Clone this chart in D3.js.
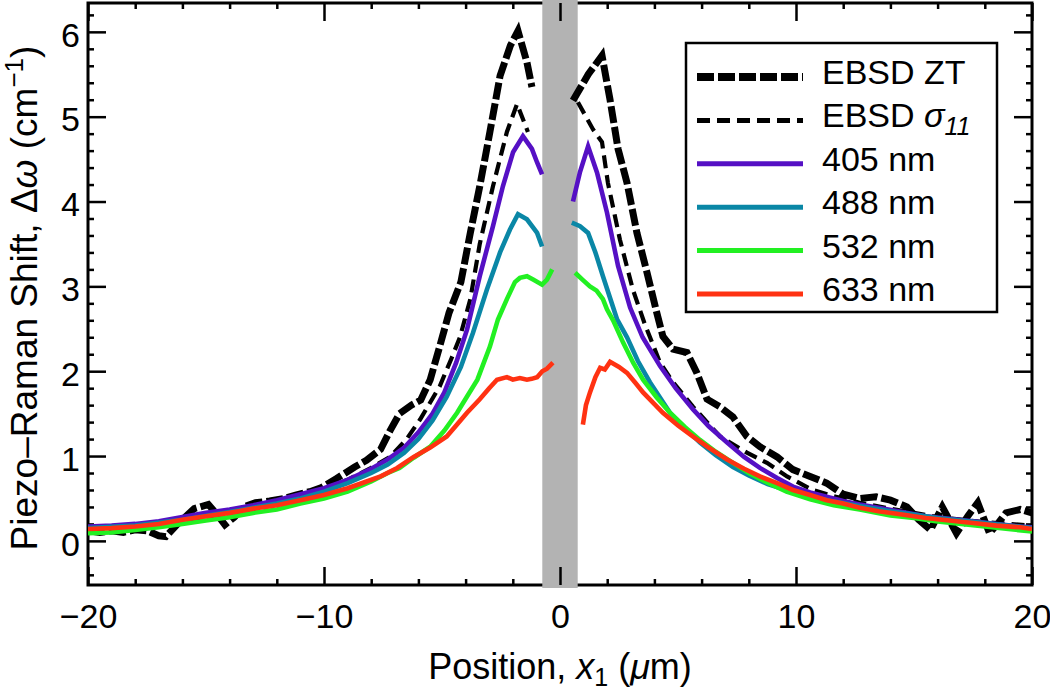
<!DOCTYPE html>
<html><head><meta charset="utf-8">
<script src="https://cdn.jsdelivr.net/npm/d3@7"></script>
<style>body{margin:0;background:#fff}svg{display:block;font-family:"Liberation Sans",Arial,sans-serif}</style>
</head><body>
<svg id="chart" width="1050" height="694"></svg>
<script>
// ---------- data (x in µm, y in cm^-1); null = gap at the interface ----------
const seriesNames = ["EBSD ZT", "EBSD σ11", "405 nm", "488 nm", "532 nm", "633 nm"];
const xTicks = [-20, -10, 0, 10, 20];
const yTicks = [0, 1, 2, 3, 4, 5, 6];
const bandRange = [-0.75, 0.75];

const ebsdZT = [[-20,0.12],[-19.5,0.1],[-19,0.12],[-18.5,0.1],[-18,0.13],[-17.5,0.12],[-17,0.06],[-16.7,0.05],[-16.2,0.2],[-15.5,0.38],[-14.9,0.43],[-14.5,0.3],[-14.2,0.19],[-13.8,0.28],[-13.4,0.4],[-12.9,0.45],[-12.3,0.47],[-11.7,0.5],[-11.2,0.54],[-10.6,0.58],[-10.1,0.63],[-9.5,0.73],[-8.7,0.87],[-8.2,0.95],[-7.6,1.08],[-7.2,1.3],[-6.8,1.5],[-6.3,1.6],[-5.9,1.66],[-5.5,1.9],[-5.1,2.29],[-4.7,2.69],[-4.2,3.05],[-3.8,3.63],[-3.4,4.18],[-2.97,4.82],[-2.54,5.48],[-2.1,5.84],[-1.78,6.01],[-1.4,5.64],[-1.19,5.35],
  null,
  [0.55,5.19],[1.2,5.5],[1.78,5.72],[2.12,5.2],[2.46,4.62],[2.84,4.22],[3.26,3.63],[3.69,3.16],[4.1,2.69],[4.36,2.41],[4.79,2.26],[5.38,2.22],[5.8,1.98],[6.23,1.67],[6.78,1.58],[7.33,1.46],[7.92,1.23],[8.47,1.11],[9.2,0.99],[9.87,0.84],[10.6,0.76],[11.3,0.68],[12.0,0.55],[12.7,0.5],[13.4,0.52],[14.0,0.48],[14.7,0.4],[15.2,0.25],[15.7,0.13],[16.2,0.4],[16.8,0.09],[17.3,0.3],[17.7,0.45],[18.2,0.09],[18.6,0.22],[18.9,0.33],[19.5,0.37],[20,0.33]];

const ebsdS11 = [[-20,0.15],[-18,0.18],[-16,0.24],[-14,0.32],[-12,0.43],[-10,0.6],[-9,0.72],[-8,0.86],[-7.2,0.99],[-6.5,1.2],[-5.93,1.43],[-5.1,1.82],[-4.6,2.15],[-4.24,2.4],[-3.8,2.85],[-3.4,3.5],[-2.84,4.18],[-2.25,4.82],[-1.82,5.15],[-1.36,4.82],
  null,
  [0.76,5.17],[1.4,4.85],[1.78,4.7],[2.03,4.22],[2.54,3.55],[3.09,2.96],[3.6,2.55],[4.24,2.1],[4.79,1.87],[5.64,1.58],[6.78,1.23],[7.92,1.04],[8.77,0.92],[9.62,0.76],[10.7,0.6],[11.7,0.52],[12.7,0.45],[14,0.38],[15,0.33],[16,0.28],[17,0.25],[18,0.22],[19,0.2],[20,0.18]];

const nm405 = [[-20,0.17],[-19,0.18],[-18,0.2],[-17,0.23],[-16,0.28],[-15,0.33],[-14,0.37],[-13,0.42],[-12,0.48],[-11,0.55],[-10,0.62],[-9,0.72],[-8,0.85],[-7.3,0.96],[-6.6,1.1],[-6,1.28],[-5.4,1.5],[-4.9,1.75],[-4.4,2.1],[-3.94,2.49],[-3.4,3.12],[-2.84,3.71],[-2.42,4.18],[-1.99,4.58],[-1.57,4.77],[-1.19,4.62],[-0.97,4.46],[-0.76,4.32],
  null,
  [0.55,4.0],[0.85,4.35],[1.19,4.65],[1.57,4.34],[1.99,3.87],[2.46,3.24],[2.97,2.75],[3.5,2.4],[4.24,2.06],[4.9,1.8],[5.64,1.55],[6.3,1.35],[7.08,1.16],[7.8,0.99],[8.47,0.86],[9.2,0.74],[9.87,0.64],[10.6,0.57],[11.3,0.52],[12,0.47],[12.7,0.43],[13.5,0.39],[14.5,0.34],[15.5,0.29],[16.5,0.26],[17.5,0.23],[18.5,0.2],[19.5,0.17],[20,0.16]];

const nm488 = [[-20,0.15],[-18,0.18],[-16,0.25],[-14,0.34],[-12,0.44],[-11,0.5],[-10,0.58],[-9,0.68],[-8,0.8],[-7.3,0.9],[-6.6,1.04],[-6,1.2],[-5.4,1.42],[-4.8,1.7],[-4.2,2.05],[-3.69,2.45],[-3.1,2.96],[-2.54,3.4],[-2.12,3.67],[-1.78,3.85],[-1.4,3.79],[-0.97,3.63],[-0.76,3.47],
  null,
  [0.5,3.75],[0.85,3.71],[1.19,3.63],[1.5,3.4],[1.82,3.12],[2.42,2.61],[2.84,2.4],[3.3,2.12],[3.81,1.87],[4.66,1.51],[5.3,1.33],[5.93,1.16],[6.6,1.01],[7.33,0.87],[8,0.77],[8.8,0.67],[9.6,0.6],[10.5,0.53],[11.5,0.47],[12.7,0.41],[14,0.35],[15,0.31],[16,0.27],[17,0.24],[18,0.21],[19,0.18],[20,0.15]];

const nm532 = [[-20,0.09],[-19,0.1],[-18,0.13],[-17,0.16],[-16,0.2],[-15,0.24],[-14,0.28],[-13,0.33],[-12,0.37],[-11,0.44],[-10,0.5],[-9,0.58],[-8,0.7],[-7.3,0.8],[-6.8,0.86],[-6.2,0.98],[-5.5,1.11],[-4.9,1.3],[-4.36,1.51],[-3.9,1.72],[-3.5,1.9],[-2.97,2.29],[-2.63,2.61],[-2.25,2.85],[-1.91,3.05],[-1.7,3.1],[-1.4,3.12],[-1.14,3.08],[-0.76,3.02],[-0.55,3.08],[-0.33,3.2],
  null,
  [0.64,3.16],[0.95,3.08],[1.27,3.0],[1.55,2.95],[1.82,2.85],[1.99,2.73],[2.25,2.6],[2.67,2.34],[3.1,2.1],[3.52,1.9],[4.1,1.69],[4.66,1.51],[5.3,1.34],[5.93,1.19],[6.6,1.05],[7.33,0.92],[8,0.8],[8.77,0.69],[9.6,0.58],[10.6,0.49],[11.6,0.42],[12.7,0.37],[14,0.3],[15,0.27],[16,0.23],[17,0.2],[18,0.17],[19,0.14],[20,0.11]];

const nm633 = [[-20,0.14],[-19,0.15],[-18,0.17],[-17,0.2],[-16,0.25],[-15,0.29],[-14,0.33],[-13,0.38],[-12,0.42],[-11,0.48],[-10,0.54],[-9,0.62],[-8.2,0.7],[-7.6,0.76],[-6.9,0.86],[-6.2,0.99],[-5.5,1.1],[-4.8,1.23],[-4.4,1.36],[-3.94,1.51],[-3.4,1.67],[-3.0,1.8],[-2.67,1.9],[-2.25,1.93],[-2.0,1.9],[-1.7,1.92],[-1.4,1.9],[-1.2,1.91],[-0.97,1.93],[-0.75,2.0],[-0.55,2.03],[-0.3,2.1],
  null,
  [0.97,1.37],[1.1,1.6],[1.27,1.75],[1.5,1.93],[1.7,2.04],[1.9,2.02],[2.12,2.11],[2.5,2.05],[2.84,1.98],[3.2,1.86],[3.52,1.75],[4.36,1.51],[5.0,1.36],[5.64,1.23],[6.3,1.1],[7.08,0.96],[7.8,0.85],[8.47,0.76],[9.2,0.68],[9.87,0.6],[10.6,0.54],[11.3,0.48],[12,0.44],[12.7,0.39],[13.5,0.35],[14.5,0.31],[15.5,0.27],[16.5,0.24],[17.5,0.21],[18.5,0.18],[19.5,0.16],[20,0.14]];

// ---------- layout ----------
const svg = d3.select("#chart");
const L = 88, R = 1032, T = 3, B = 585;
const x = d3.scaleLinear([-20, 20], [L, R]);
const y = d3.scaleLinear([-0.52, 6.34], [B, T]);

const styles = [
  {data: ebsdZT, color: "#000", width: 7, dash: "17,4"},
  {data: ebsdS11, color: "#000", width: 4.2, dash: "13,7"},
  {data: nm405, color: "#5510c4", width: 4.6, dash: null},
  {data: nm488, color: "#0a87a6", width: 4.6, dash: null},
  {data: nm532, color: "#22f022", width: 4.6, dash: null},
  {data: nm633, color: "#ff3212", width: 4.6, dash: null}
];

// frame
svg.append("rect").attr("x", L).attr("y", T).attr("width", R - L).attr("height", B - T)
  .attr("fill", "none").attr("stroke", "#000").attr("stroke-width", 3);

// interface band
svg.append("rect").attr("x", x(bandRange[0])).attr("width", x(bandRange[1]) - x(bandRange[0]))
  .attr("y", 0).attr("height", B + 3).attr("fill", "#b3b3b3");

// axes (inward ticks)
const minorX = d3.range(-20, 20.01, 2).filter(v => v % 10 !== 0);
const minorY = d3.range(-0.4, 6.31, 0.2).map(v => +v.toFixed(1)).filter(v => Math.abs(v - Math.round(v)) > 1e-6);
function styleAxis(g) {
  g.select(".domain").remove();
  g.selectAll(".tick line").attr("stroke", "#000").attr("stroke-width", 2.5);
  g.selectAll(".tick text").attr("fill", "#000").attr("font-size", 34)
    .attr("font-family", '"Liberation Sans", Arial, sans-serif');
}
svg.append("g").attr("transform", `translate(0,${B})`)
  .call(d3.axisBottom(x).tickValues(xTicks).tickSize(-18).tickPadding(19).tickFormat(d3.format("d"))).call(styleAxis);
svg.append("g").attr("transform", `translate(0,${B})`)
  .call(d3.axisBottom(x).tickValues(minorX).tickSize(-6).tickFormat("")).call(styleAxis);
svg.append("g").attr("transform", `translate(0,${T})`)
  .call(d3.axisTop(x).tickValues(xTicks).tickSize(-18).tickFormat("")).call(styleAxis);
svg.append("g").attr("transform", `translate(0,${T})`)
  .call(d3.axisTop(x).tickValues(minorX).tickSize(-6).tickFormat("")).call(styleAxis);
svg.append("g").attr("transform", `translate(${L},0)`)
  .call(d3.axisLeft(y).tickValues(yTicks).tickSize(-18).tickPadding(8).tickFormat(d3.format("d"))).call(styleAxis)
  .selectAll(".tick text").attr("dy", "0.42em");
svg.append("g").attr("transform", `translate(${L},0)`)
  .call(d3.axisLeft(y).tickValues(minorY).tickSize(-6).tickFormat("")).call(styleAxis);
svg.append("g").attr("transform", `translate(${R},0)`)
  .call(d3.axisRight(y).tickValues(yTicks).tickSize(-18).tickFormat("")).call(styleAxis);
svg.append("g").attr("transform", `translate(${R},0)`)
  .call(d3.axisRight(y).tickValues(minorY).tickSize(-6).tickFormat("")).call(styleAxis);

// data lines
const line = d3.line().defined(d => d !== null).x(d => x(d[0])).y(d => y(d[1]));
svg.append("clipPath").attr("id", "clip").append("rect")
  .attr("x", L).attr("y", T).attr("width", R - L).attr("height", B - T);
const lines = svg.append("g").attr("clip-path", "url(#clip)");
styles.forEach(s => {
  lines.append("path").attr("d", line(s.data)).attr("fill", "none")
    .attr("stroke", s.color).attr("stroke-width", s.width)
    .attr("stroke-dasharray", s.dash).attr("stroke-linejoin", "miter").attr("stroke-linecap", "butt");
});

// legend
const lg = svg.append("g");
lg.append("rect").attr("x", 686).attr("y", 43).attr("width", 311).attr("height", 269)
  .attr("fill", "#fff").attr("stroke", "#000").attr("stroke-width", 2.5);
styles.forEach((s, i) => {
  const ly = 77 + i * 43.4;
  lg.append("line").attr("x1", 697).attr("x2", 803).attr("y1", ly).attr("y2", ly)
    .attr("stroke", s.color).attr("stroke-width", i === 0 ? 8 : 5)
    .attr("stroke-dasharray", s.dash);
  const t = lg.append("text").attr("x", 822).attr("y", ly + 7).attr("font-size", 34).attr("fill", "#000");
  if (i === 1) {
    t.append("tspan").text("EBSD ");
    t.append("tspan").attr("font-style", "italic").text("σ");
    t.append("tspan").attr("font-style", "italic").attr("font-size", 25).attr("dy", 8).text("11");
  } else {
    t.text(seriesNames[i]);
  }
});

// axis titles
const xt = svg.append("text").attr("x", 560).attr("y", 679).attr("text-anchor", "middle")
  .attr("font-size", 36).attr("fill", "#000");
xt.append("tspan").text("Position, ");
xt.append("tspan").attr("font-style", "italic").text("x");
xt.append("tspan").attr("font-size", 25).attr("dy", 7).text("1");
xt.append("tspan").attr("dy", -7).text(" (");
xt.append("tspan").attr("font-style", "italic").text("μ");
xt.append("tspan").text("m)");

const yt = svg.append("text").attr("transform", "translate(37,298) rotate(-90)")
  .attr("text-anchor", "middle").attr("font-size", 37).attr("fill", "#000");
yt.append("tspan").text("Piezo–Raman Shift, Δ");
yt.append("tspan").attr("font-style", "italic").text("ω");
yt.append("tspan").text(" (cm");
yt.append("tspan").attr("font-size", 26).attr("dy", -14).text("−1");
yt.append("tspan").attr("dy", 14).text(")");
</script>
</body></html>
